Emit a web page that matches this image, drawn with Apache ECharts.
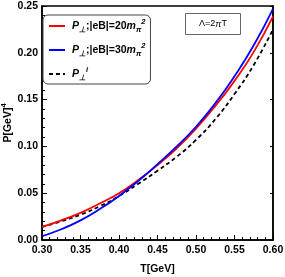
<!DOCTYPE html>
<html>
<head>
<meta charset="utf-8">
<script src="https://cdn.jsdelivr.net/npm/echarts@6/dist/echarts.min.js"></script>
<style>
html,body{margin:0;padding:0;background:#fff;}
#chart{width:285px;height:277px;}
</style>
</head>
<body>
<div id="chart"></div>
<script>
const temperatures = [0.300, 0.325, 0.350, 0.375, 0.400, 0.425, 0.450, 0.475, 0.500, 0.525, 0.550, 0.575, 0.600];
const pPerp20 = [0.014, 0.021, 0.029, 0.039, 0.050, 0.064, 0.080, 0.098, 0.119, 0.143, 0.170, 0.201, 0.239];
const pPerp30 = [0.004, 0.0115, 0.021, 0.033, 0.047, 0.063, 0.081, 0.100, 0.121, 0.146, 0.175, 0.208, 0.247];
const pPerpIdeal = [0.014, 0.020, 0.027, 0.036, 0.047, 0.060, 0.074, 0.089, 0.107, 0.129, 0.156, 0.187, 0.225];
const xTicks = [0.30, 0.35, 0.40, 0.45, 0.50, 0.55, 0.60];
const yTicks = [0.00, 0.05, 0.10, 0.15, 0.20, 0.25];
const seriesNames = ['s20', 's30', 'sid'];
const legendTexts = {
  s20: '{i|P}{sb|⊥}{b|;|eB|=20}{i|m}{sb|π}{sp|2}',
  s30: '{i|P}{sb|⊥}{b|;|eB|=30}{i|m}{sb|π}{sp|2}',
  sid: '{i|P}{sb|⊥}{sp|i}'
};

const FONT = '"Liberation Sans", Arial, sans-serif';
const chart = echarts.init(document.getElementById('chart'), null, {renderer: 'canvas'});
const mk = arr => temperatures.map((t, i) => [t, arr[i]]);

const richLegend = {
  b: {fontFamily: FONT, fontWeight: 'bold', fontSize: 10.5, lineHeight: 16, verticalAlign: 'middle', color: '#000'},
  i: {fontFamily: FONT, fontWeight: 'bold', fontStyle: 'italic', fontSize: 10.5, lineHeight: 16, verticalAlign: 'middle', color: '#000'},
  sb: {fontFamily: FONT, fontWeight: 'bold', fontStyle: 'italic', fontSize: 7.5, lineHeight: 9, verticalAlign: 'bottom', color: '#000'},
  sp: {fontFamily: FONT, fontWeight: 'bold', fontStyle: 'italic', fontSize: 7.5, lineHeight: 9, verticalAlign: 'top', color: '#000'}
};

const option = {
  animation: false,
  backgroundColor: '#fff',
  grid: {left: 42, right: 12, top: 6, bottom: 37, containLabel: false, outerBoundsMode: 'none',
    show: true, borderColor: '#000', borderWidth: 1.5, backgroundColor: 'transparent'},
  xAxis: [{
    type: 'value', min: 0.3, max: 0.6, interval: 0.05,
    axisLine: {show: true, onZero: false, lineStyle: {color: '#000', width: 1.5}},
    axisTick: {show: true, inside: true, length: 5, lineStyle: {color: '#000', width: 1}},
    minorTick: {show: true, splitNumber: 5, length: 3, lineStyle: {color: '#000', width: 1}},
    splitLine: {show: false},
    axisLabel: {color: '#000', fontFamily: FONT, fontWeight: 'bold', fontSize: 10.5, margin: 5,
      formatter: v => xTicks.find(t => Math.abs(t - v) < 1e-6) !== undefined ? v.toFixed(2) : ''},
    name: 'T[GeV]', nameLocation: 'middle', nameGap: 24, nameMoveOverlap: false,
    nameTextStyle: {color: '#000', fontFamily: FONT, fontWeight: 'bold', fontSize: 10.5}
  }],
  yAxis: [{
    type: 'value', min: 0, max: 0.25, interval: 0.05,
    axisLine: {show: true, onZero: false, lineStyle: {color: '#000', width: 1.5}},
    axisTick: {show: true, inside: true, length: 5, lineStyle: {color: '#000', width: 1}},
    minorTick: {show: true, splitNumber: 5, length: 3, lineStyle: {color: '#000', width: 1}},
    splitLine: {show: false},
    axisLabel: {color: '#000', fontFamily: FONT, fontWeight: 'bold', fontSize: 10.5, margin: 4,
      formatter: v => yTicks.find(t => Math.abs(t - v) < 1e-6) !== undefined ? v.toFixed(2) : ''},
    name: '{n|P[GeV]}{sp|4}', nameLocation: 'middle', nameGap: 26, nameRotate: 90, nameMoveOverlap: false,
    nameTextStyle: {color: '#000', fontFamily: FONT, fontWeight: 'bold', fontSize: 10.5,
      rich: {
        n: {fontFamily: FONT, fontWeight: 'bold', fontSize: 10.5, lineHeight: 16, verticalAlign: 'middle', color: '#000'},
        sp: {fontFamily: FONT, fontWeight: 'bold', fontSize: 7.5, verticalAlign: 'top', lineHeight: 9, color: '#000'}
      }}
  }, {
    type: 'value', min: 0, max: 0.25, interval: 0.05, position: 'right',
    axisLine: {show: true, lineStyle: {color: '#000', width: 1.5}},
    axisTick: {show: true, inside: true, length: 3, lineStyle: {color: '#000', width: 1}},
    axisLabel: {show: false}, splitLine: {show: false}
  }],
  legend: {
    orient: 'vertical', left: 43, top: 15,
    data: seriesNames,
    itemWidth: 16, itemHeight: 12, itemGap: 8,
    padding: [3, 5, 2, 5],
    borderColor: '#444', borderWidth: 1, borderRadius: 5,
    backgroundColor: '#fff',
    itemStyle: {opacity: 0, borderWidth: 0},
    formatter: name => legendTexts[name],
    textStyle: {rich: richLegend, padding: [0, 0, 0, 2]}
  },
  graphic: [{
    type: 'group', left: 185, top: 13,
    children: [
      {type: 'rect', shape: {x: 0, y: 0, width: 55, height: 21}, style: {fill: '#fff', stroke: '#666', lineWidth: 1}},
      {type: 'text', style: {x: 27.5, y: 10.5, text: '{n|Λ=2}{i|π}{n|T}', align: 'center', verticalAlign: 'middle',
        rich: {n: {fontFamily: FONT, fontSize: 9, color: '#000'}, i: {fontFamily: FONT, fontSize: 9, fontStyle: 'italic', color: '#000'}}}}
    ]
  }],
  series: [
    {name: 's20', type: 'line', data: mk(pPerp20), smooth: true, showSymbol: false, symbol: 'none',
      lineStyle: {color: '#ff0000', width: 1.8}, itemStyle: {color: '#ff0000'}, z: 3},
    {name: 's30', type: 'line', data: mk(pPerp30), smooth: true, showSymbol: false, symbol: 'none',
      lineStyle: {color: '#0000ff', width: 1.8}, itemStyle: {color: '#0000ff'}, z: 4},
    {name: 'sid', type: 'line', data: mk(pPerpIdeal), smooth: true, showSymbol: false, symbol: 'none',
      lineStyle: {color: '#000', width: 1.8, type: [4, 3]}, itemStyle: {color: '#000'}, z: 2}
  ]
};
chart.setOption(option);
</script>
</body>
</html>
